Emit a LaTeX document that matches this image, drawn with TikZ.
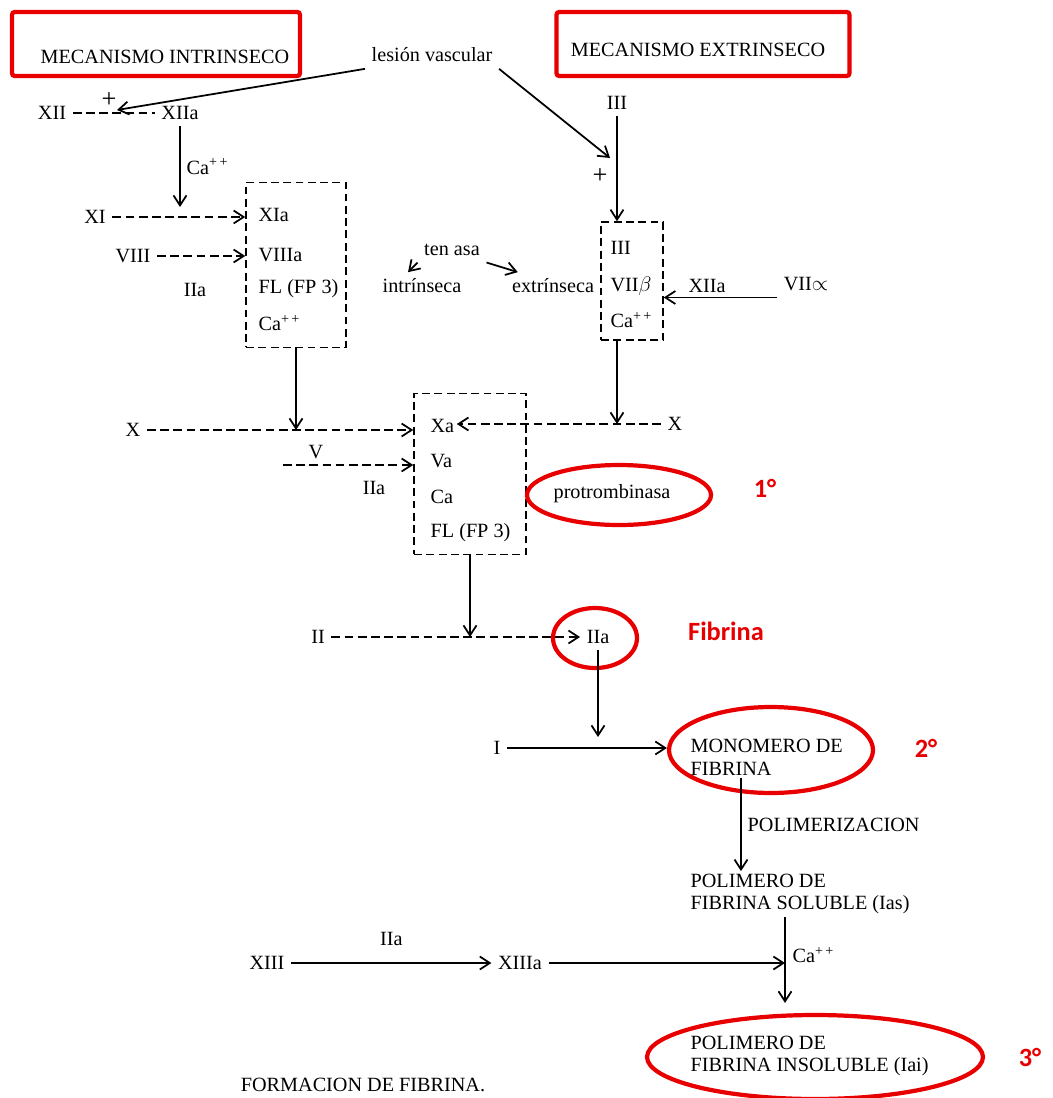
\documentclass[tikz,border=0pt]{standalone}
\usepackage{fontspec}
\setmainfont{Liberation Serif}
\newfontfamily\redfont{Carlito}
\usepackage{xcolor}
\usepackage{tikz}
\usetikzlibrary{arrows.meta,shapes.geometric}
\definecolor{marca}{RGB}{232,0,0}

\begin{document}
\begin{tikzpicture}[x=0.02cm,y=-0.02cm,font=\fontsize{11.5}{13}\selectfont,line width=1pt,
 >={Straight Barb[length=2mm,width=2.6mm]},
 dline/.style={dash pattern=on 5pt off 2.5pt},
 dbox/.style={draw,dash pattern=on 4.5pt off 2.5pt,line width=0.9pt},
 redbox/.style={draw=marca,line width=2.4pt,rounded corners=1.5pt},
 redell/.style={draw=marca,ellipse,line width=2.4pt},
 marker/.style={text=marca,font=\redfont\bfseries\fontsize{15}{15}\selectfont},
 rowtxt/.style={anchor=west,inner sep=1pt},
 plus/.style={font=\fontsize{15}{15}\selectfont,inner sep=0pt}]
\useasboundingbox (0,0) rectangle (1052,1098);
\node[redbox,minimum width=5.76cm,minimum height=1.28cm] (intbox) at (156,44) {};
\node (intT) at (165,57) {MECANISMO INTRINSECO};
\node[redbox,minimum width=5.86cm,minimum height=1.28cm] (extbox) at (703,44) {};
\node (extT) at (698,50) {MECANISMO EXTRINSECO};
\node (lesion) at (432,55) {lesión vascular};
\node (xii) at (52,113) {XII};
\node (xiia) at (180,113) {XIIa};
\coordinate (plusL) at (117,110);
\node[plus] (pL) at (109,100) {+};
\node (iii) at (617,103) {III};
\coordinate (plusR) at (610,158);
\node[plus] (pR) at (600,176) {+};
\draw[->] (lesion.south west) -- (plusL);
\draw[->] (lesion.south east) -- (plusR);
\draw[dline] (xii) -- (xiia);

\node[dbox,minimum width=2cm,minimum height=3.3cm] (boxA) at (296,265) {};
\node[rowtxt] (xia) at (256,215) {XIa};
\node[rowtxt] (viiia) at (256,255) {VIIIa};
\node[rowtxt] (flA) at (256,289) {FL (FP 3)};
\node[rowtxt] (caA) at (256,323) {Ca\textsuperscript{+\,+}};
\node (xi) at (95,217) {XI};
\node (viii) at (133,256) {VIII};
\node (iiaA) at (195,290) {IIa};
\draw[->] (xiia.south) -- node[right]{Ca\textsuperscript{+\,+}} ([yshift=0.2cm]xiia |- xi);
\draw[dline,->] (xi) -- (xi -| boxA.west);
\draw[dline,->] (viii) -- (viii -| boxA.west);

\node (tenasa) at (452,250) {ten asa};
\node (intr) at (422,286) {intrínseca};
\node (extr) at (553,286) {extrínseca};
\draw[->] (tenasa.south west) -- ([xshift=-0.28cm]intr.north);
\draw[->] (tenasa.south east) -- ([xshift=0.25cm]extr.north west);

\node[dbox,minimum width=1.24cm,minimum height=2.36cm] (boxB) at (632,281) {};
\node[rowtxt] (iiiB) at (608,248) {III};
\node[rowtxt] (viib) at (608,286) {VII$\beta$};
\node[rowtxt] (caB) at (608,320) {Ca\textsuperscript{+\,+}};
\draw[->] (iii) -- (iii |- boxB.north);
\node (xiiaB) at (707,286) {XIIa};
\node (viia) at (806,284) {VII$\propto$};
\draw[->] (viia.south west) -- (viia.south west -| boxB.east);

\node[dbox,minimum width=2.24cm,minimum height=3.22cm] (boxC) at (470,474) {};
\node[rowtxt] (xa) at (428,426) {Xa};
\node[rowtxt] (va) at (428,461) {Va};
\node[rowtxt] (caC) at (428,497) {Ca};
\node[rowtxt] (flC) at (428,533) {FL (FP 3)};
\node (xL) at (133,430) {X};
\node (xR) at (675,424) {X};
\draw[->] (boxA.south) -- (boxA.south |- xL);
\draw[dline,->] (xL) -- (xL -| boxC.west);
\draw[->] (iii |- boxB.south) -- (iii |- xR);
\draw[dline,->] (xR) -- (xR -| xa.east);
\node (v) at (316,452) {V};
\coordinate (vs) at (283,465);
\draw[dline,->] (vs) -- (vs -| boxC.west);
\node (iiaC) at (374,488) {IIa};
\node[redell,minimum width=3.68cm,minimum height=1.2cm] (protE) at (619,495) {};
\node (prot) at (612,494) {protrombinasa};
\node[marker] (m1) at (765,488) {1°};

\node (ii) at (318,637) {II};
\node (iia) at (598,637) {IIa};
\draw[->] (boxC.south) -- (boxC.south |- ii);
\draw[dline,->] (ii) -- (iia);
\node[redell,minimum width=1.68cm,minimum height=1.2cm] (iiaE) at (595,638) {};
\node[marker] (fib) at (726,631) {Fibrina};

\node (i) at (497,748) {I};
\node[redell,minimum width=4.08cm,minimum height=1.72cm] (monoE) at (771,750) {};
\node[rowtxt,align=left] (mono) at (688,757) {MONOMERO DE\\FIBRINA};
\node[marker] (m2) at (926,748) {2°};
\draw[->] (iia.south) -- ([yshift=0.22cm]iia.south |- i);
\draw[->] (i) -- (i -| monoE.west);
\node[rowtxt,align=left] (solu) at (688,894) {POLIMERO DE\\FIBRINA SOLUBLE (Ias)};
\draw[->] ([xshift=1.06cm]mono.south west) -- node[right]{POLIMERIZACION} ([xshift=1.06cm]solu.north west);

\node (xiii) at (267,963) {XIII};
\node (xiiia) at (520,963) {XIIIa};
\coordinate (junc) at (785,963);
\node[redell,minimum width=6.72cm,minimum height=1.68cm] (insE) at (815,1057) {};
\node[rowtxt,align=left] (insol) at (688,1056) {POLIMERO DE\\FIBRINA INSOLUBLE (Iai)};
\node[marker] (m3) at (1030,1057) {3°};
\draw[->] (xiii) -- node[above=6pt]{IIa} (xiiia);
\draw[->] (xiiia) -- (junc);
\draw[->] (junc |- solu.south) -- ([yshift=0.2cm]junc |- insE.north);
\node[rowtxt] (caJ) at (790,955) {Ca\textsuperscript{+\,+}};
\node (caption) at (363,1085) {FORMACION DE FIBRINA.};
\end{tikzpicture}
\end{document}
